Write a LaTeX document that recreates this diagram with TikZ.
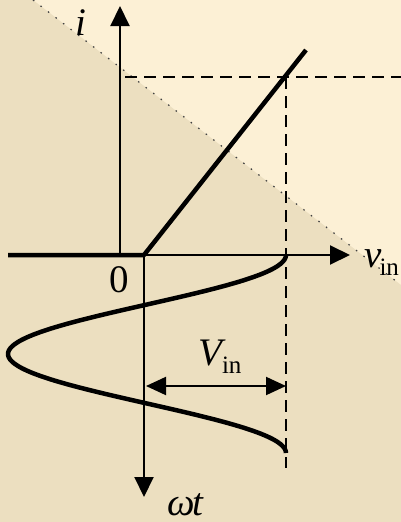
\documentclass[tikz,border=0pt]{standalone}
\usepackage{fontspec}
\setmainfont{Liberation Serif}
\usetikzlibrary{arrows.meta}
\usetikzlibrary{positioning}

\definecolor{paper}{RGB}{252,240,213}
\definecolor{parchment}{RGB}{236,223,192}
% upright subscript "in"
\newcommand{\insub}{\raisebox{-8pt}{\fontsize{25}{25}\selectfont\upshape in}}

\begin{document}
\begin{tikzpicture}[x=1pt, y=-1pt,
    every node/.style={inner sep=0pt, font=\fontsize{39}{40}\selectfont},
    axis/.style={line width=2pt, -{Triangle[length=20pt,width=19pt]}},
    curve/.style={line width=4.5pt, line join=round},
    guide/.style={line width=2.5pt, dash pattern=on 12pt off 7pt},
    dim/.style={line width=2pt, {Triangle[length=20pt,width=18pt]}-{Triangle[length=20pt,width=18pt]}}]
      % Peak input voltage (horizontal offset of the dashed guide)
      \def\vpk{142}
      % Period of the input sine, along the time axis
      \def\period{198}
      \useasboundingbox (0,0) rectangle (401,522);
      % Background: light sheet with a parchment triangle
      \fill[paper] (0,0) rectangle (401,522);
      \fill[parchment] (33,0) -- (401,285) -- (401,522) -- (0,522) -- (0,0) -- cycle;
      \draw[black!75, line width=1.2pt, dash pattern=on 1.5pt off 8pt] (33,0) -- (401,285);
      % Axes
      \coordinate (o) at (144,255);
      \coordinate (left) at (8,255);
      \coordinate (vend) at (350,255);
      \coordinate (ibase) at (120,255);
      \coordinate (iend) at (120,6);
      \coordinate (tend) at (144,497);
      \draw[axis] (o) -- (vend);
      \draw[axis] (ibase) -- (iend);
      \draw[axis] (o) -- (tend);
      % Transfer characteristic: zero below the origin, then a ramp
      \coordinate (top) at (306,50);
      \draw[curve] (left) -- (o) -- (top);
      % Dashed guides at the peak
      \coordinate (hg1) at (125,77);
      \coordinate (hg2) at (401,77);
      \coordinate (vg1) at ({144+\vpk},77);
      \coordinate (vg2) at ({144+\vpk},468);
      \draw[guide] (hg1) -- (hg2);
      \draw[guide] (vg1) -- (vg2);
      % Input sine, drawn downwards along the time axis
      \draw[curve] plot[domain=0:360, samples=90, smooth] ({147+139*cos(\x)}, {255+\x/360*\period});
      % Amplitude marker
      \coordinate (d1) at (146,386);
      \coordinate (d2) at ({144+\vpk},386);
      \draw[dim] (d1) -- (d2);
      % Labels
      \node[anchor=base] (ilbl) at (81,35) {\itshape i};
      \node[anchor=base] (zero) at (119,292) {0};
      \node[anchor=base west] (vlbl) at (364,267) {\itshape v\kern-2pt\insub};
      \node[anchor=base west] (Vlbl) at (198,365) {\itshape V\insub};
      \node[anchor=base west] (tlbl) at (167,515) {\itshape ω\kern-2pt t};
\end{tikzpicture}
\end{document}
